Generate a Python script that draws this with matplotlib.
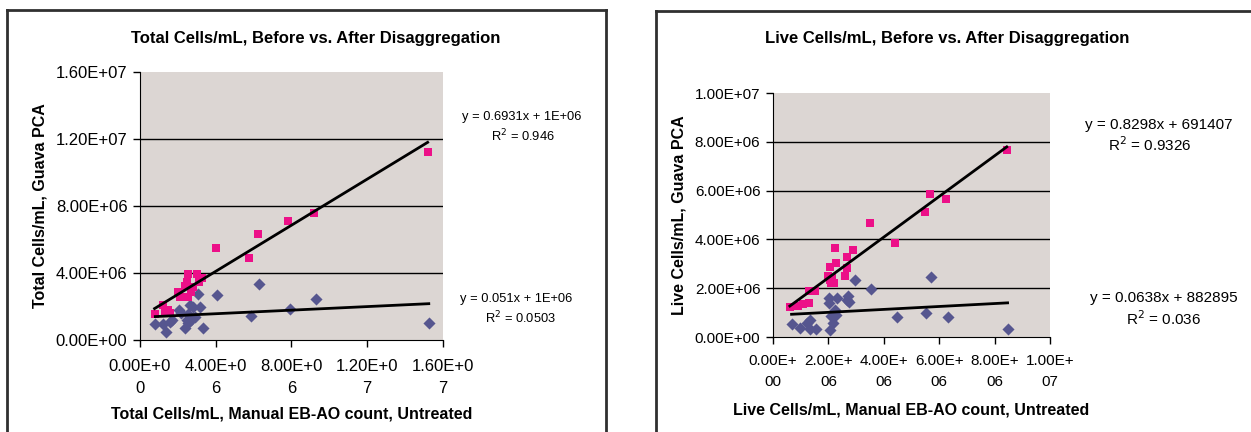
import numpy as np
import matplotlib
matplotlib.use('Agg')
import matplotlib.pyplot as plt
from matplotlib.lines import Line2D

plt.rcParams['font.family'] = ['Liberation Sans', 'DejaVu Sans']

# total cells: x = manual EB-AO count, y = Guava PCA
total_after_x = [0.77e6, 1.23e6, 1.32e6, 1.49e6, 1.58e6, 2.02e6, 2.10e6, 2.37e6, 2.46e6, 2.54e6, 2.51e6,
                 2.72e6, 3.02e6, 3.12e6, 3.25e6, 2.81e6, 4.02e6, 5.77e6, 6.21e6, 7.84e6, 9.21e6, 15.19e6]
total_after_y = [1.53e6, 2.08e6, 1.68e6, 1.78e6, 1.64e6, 2.87e6, 2.58e6, 3.23e6, 3.47e6, 3.96e6, 2.58e6,
                 2.87e6, 3.92e6, 3.47e6, 3.72e6, 3.17e6, 5.47e6, 4.91e6, 6.32e6, 7.11e6, 7.59e6, 11.21e6]
total_before_x = [0.81e6, 1.19e6, 1.37e6, 1.58e6, 1.67e6, 2.07e6, 2.19e6, 2.37e6, 2.46e6, 2.54e6, 2.63e6, 2.72e6,
                  2.81e6, 2.89e6, 3.07e6, 3.16e6, 3.33e6, 2.54e6, 4.07e6, 5.84e6, 6.28e6, 7.91e6, 9.30e6, 15.25e6]
total_before_y = [0.93e6, 0.95e6, 0.46e6, 1.09e6, 1.19e6, 1.82e6, 1.62e6, 0.69e6, 1.19e6, 1.58e6, 2.08e6, 1.19e6,
                  1.98e6, 1.39e6, 2.77e6, 1.98e6, 0.69e6, 0.99e6, 2.71e6, 1.41e6, 3.35e6, 1.84e6, 2.42e6, 1.01e6]

# live cells
live_after_x = [0.61e6, 0.91e6, 1.09e6, 1.31e6, 1.31e6, 1.51e6, 1.99e6, 2.05e6, 2.11e6, 2.19e6, 2.14e6, 2.07e6,
                2.29e6, 2.24e6, 2.59e6, 2.67e6, 2.67e6, 2.89e6, 3.49e6, 4.41e6, 5.50e6, 5.68e6, 6.26e6, 8.44e6]
live_after_y = [1.22e6, 1.27e6, 1.34e6, 1.41e6, 1.89e6, 1.90e6, 2.52e6, 2.34e6, 2.20e6, 2.20e6, 2.41e6, 2.86e6,
                3.02e6, 3.65e6, 2.52e6, 2.82e6, 3.27e6, 3.55e6, 4.69e6, 3.87e6, 5.14e6, 5.86e6, 5.66e6, 7.66e6]
live_before_x = [0.67e6, 0.97e6, 1.21e6, 1.35e6, 1.35e6, 1.57e6, 2.01e6, 2.01e6, 2.07e6, 2.11e6, 2.17e6, 2.23e6,
                 2.26e6, 2.32e6, 2.67e6, 2.72e6, 2.74e6, 2.95e6, 3.53e6, 4.47e6, 5.54e6, 5.72e6, 6.31e6, 8.47e6]
live_before_y = [0.53e6, 0.38e6, 0.59e6, 0.70e6, 0.33e6, 0.33e6, 1.59e6, 1.38e6, 0.27e6, 0.86e6, 0.59e6, 1.11e6,
                 0.90e6, 1.59e6, 1.52e6, 1.68e6, 1.45e6, 2.34e6, 1.98e6, 0.83e6, 0.97e6, 2.47e6, 0.83e6, 0.33e6]

total_yticks = [0, 4e6, 8e6, 12e6, 16e6]
total_xticks = [0, 4e6, 8e6, 12e6, 16e6]
live_yticks = [0, 2e6, 4e6, 6e6, 8e6, 10e6]
live_xticks = [0, 2e6, 4e6, 6e6, 8e6, 10e6]

PINK = '#EC1088'
BLUE = '#56568F'
BG = '#DCD6D3'


def trend(ax, x, y):
    m, b = np.polyfit(x, y, 1)
    xs = np.array([min(x), max(x)])
    ax.plot(xs, m * xs + b, color='black', lw=2, zorder=4)


def setup(ax, xticks, yticks, xsplit, fs, xpad, lsp):
    ax.set_facecolor(BG)
    ax.set_xlim(xticks[0], xticks[-1])
    ax.set_ylim(yticks[0], yticks[-1])
    ax.set_xticks(xticks)
    ax.set_yticks(yticks)
    ax.set_yticklabels(['%.2E' % v for v in yticks], fontsize=fs)
    xl = []
    for v in xticks:
        s = '%.2E' % v
        xl.append(s[:xsplit] + '\n' + s[xsplit:])
    ax.set_xticklabels(xl, fontsize=fs, linespacing=lsp)
    for v in yticks[1:-1]:
        ax.axhline(v, color='black', lw=1, zorder=1)
    ax.spines['top'].set_visible(False)
    ax.spines['right'].set_visible(False)
    ax.spines['left'].set_color('black')
    ax.spines['bottom'].set_color('black')
    ax.tick_params(direction='out', length=5, width=1, color='black', pad=4)
    ax.tick_params(axis='x', pad=xpad)


fig = plt.figure(figsize=(12.51, 4.32), dpi=100)

# left panel
ax1 = fig.add_axes([0.1119, 0.213, 0.2422, 0.620])
setup(ax1, total_xticks, total_yticks, 7, 12, 9, 1.55)
ax1.scatter(total_before_x, total_before_y, marker='D', s=38, color=BLUE, zorder=3, linewidths=0)
ax1.scatter(total_after_x, total_after_y, marker='s', s=34, color=PINK, zorder=3, linewidths=0)
trend(ax1, total_after_x, total_after_y)
trend(ax1, total_before_x, total_before_y)
ax1.set_ylabel('Total Cells/mL, Guava PCA', fontsize=11.5, fontweight='bold', labelpad=6)
ax1.set_xlabel('Total Cells/mL, Manual EB-AO count, Untreated', fontsize=11.5, fontweight='bold', labelpad=7.5)
fig.text(316 / 1251, 1 - 38 / 432, 'Total Cells/mL, Before vs. After Disaggregation',
         ha='center', va='center', fontsize=12, fontweight='bold')
fig.text(522 / 1251, 1 - 117 / 432, 'y = 0.6931x + 1E+06', ha='center', va='center', fontsize=9.3)
fig.text(523 / 1251, 1 - 136 / 432, 'R$^2$ = 0.946', ha='center', va='center', fontsize=9.3)
fig.text(516 / 1251, 1 - 299 / 432, 'y = 0.051x + 1E+06', ha='center', va='center', fontsize=9.3)
fig.text(520 / 1251, 1 - 318 / 432, 'R$^2$ = 0.0503', ha='center', va='center', fontsize=9.3)

# right panel
ax2 = fig.add_axes([0.6179, 0.2199, 0.2214, 0.5648])
setup(ax2, live_xticks, live_yticks, 6, 11, 7, 1.65)
ax2.scatter(live_before_x, live_before_y, marker='D', s=38, color=BLUE, zorder=3, linewidths=0)
ax2.scatter(live_after_x, live_after_y, marker='s', s=34, color=PINK, zorder=3, linewidths=0)
trend(ax2, live_after_x, live_after_y)
trend(ax2, live_before_x, live_before_y)
ax2.set_ylabel('Live Cells/mL, Guava PCA', fontsize=11.5, fontweight='bold', labelpad=6)
ax2.set_xlabel('Live Cells/mL, Manual EB-AO count, Untreated', fontsize=11.5, fontweight='bold', labelpad=9.5)
fig.text(947 / 1251, 1 - 38 / 432, 'Live Cells/mL, Before vs. After Disaggregation',
         ha='center', va='center', fontsize=12, fontweight='bold')
fig.text(1159 / 1251, 1 - 125 / 432, 'y = 0.8298x + 691407', ha='center', va='center', fontsize=11)
fig.text(1150 / 1251, 1 - 145 / 432, 'R$^2$ = 0.9326', ha='center', va='center', fontsize=11)
fig.text(1164 / 1251, 1 - 298 / 432, 'y = 0.0638x + 882895', ha='center', va='center', fontsize=11)
fig.text(1164 / 1251, 1 - 319 / 432, 'R$^2$ = 0.036', ha='center', va='center', fontsize=11)

# chart frames (open at the bottom, right one runs off the edge)
fc = '#303030'
W, H = 1251, 432
frames = [([7, 7], [H, 9.5]), ([7, 606], [9.5, 9.5]), ([606, 606], [9.5, H]),
          ([655.5, 655.5], [H, 11]), ([655.5, W], [11, 11])]
for xs, ys in frames:
    fig.add_artist(Line2D([x / W for x in xs], [1 - y / H for y in ys], color=fc, lw=2))

fig.savefig('out.png', dpi=100)
